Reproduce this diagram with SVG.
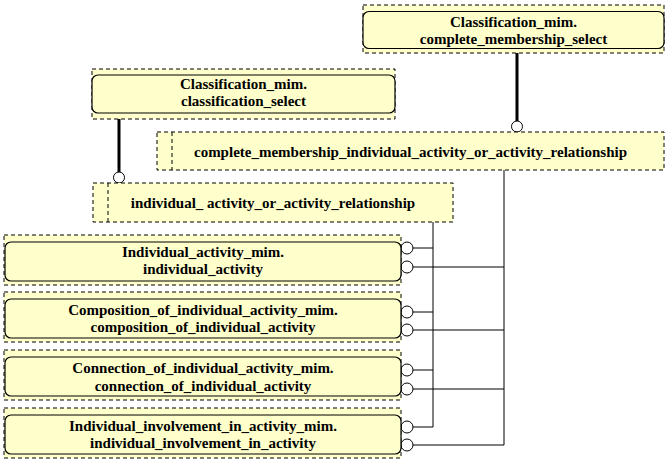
<svg xmlns="http://www.w3.org/2000/svg" width="671" height="463" viewBox="0 0 671 463">
<style>
.bg{fill:#ffffff}
.outer{fill:#ffffcc;stroke:#000;stroke-width:1;stroke-dasharray:4,3}
.inner{fill:#ffffcc;stroke:#000;stroke-width:1.2}
.dl{stroke:#000;stroke-width:1;stroke-dasharray:4,3;fill:none}
.t{font-family:"Liberation Serif","Times New Roman",serif;font-weight:bold;font-size:15px;fill:#000;text-anchor:middle}
.thick{stroke:#000;stroke-width:3;fill:none}
.thin{stroke:#000;stroke-width:1;fill:none}
.c{fill:#fff;stroke:#000;stroke-width:1}
</style>
<rect class="bg" x="0" y="0" width="671" height="463"/>

<g id="connectors">
  <line class="thick" x1="517" y1="53" x2="517" y2="121"/>
  <circle class="c" cx="517" cy="126.5" r="5.5"/>
  <line class="thick" x1="119" y1="119" x2="119" y2="172"/>
  <circle class="c" cx="119" cy="177.5" r="5.5"/>
  <polyline class="thin" points="504,170 504,445 413,445"/>
  <polyline class="thin" points="433,222 433,427 413,427"/>
  <line class="thin" x1="413" y1="248" x2="433" y2="248"/>
  <line class="thin" x1="413" y1="312" x2="433" y2="312"/>
  <line class="thin" x1="413" y1="370" x2="433" y2="370"/>
  <line class="thin" x1="413" y1="267" x2="504" y2="267"/>
  <line class="thin" x1="413" y1="330" x2="504" y2="330"/>
  <line class="thin" x1="413" y1="389" x2="504" y2="389"/>
  <circle class="c" cx="407" cy="248" r="6"/>
  <circle class="c" cx="407" cy="267" r="6"/>
  <circle class="c" cx="407" cy="312" r="6"/>
  <circle class="c" cx="407" cy="330" r="6"/>
  <circle class="c" cx="407" cy="370" r="6"/>
  <circle class="c" cx="407" cy="389" r="6"/>
  <circle class="c" cx="407" cy="427" r="6"/>
  <circle class="c" cx="407" cy="445" r="6"/>
</g>

<g id="complete_membership_select">
  <rect class="outer" x="363" y="5" width="301" height="48"/>
  <rect class="inner" x="363" y="11.5" width="301" height="37" rx="6"/>
  <text class="t" x="513.5" y="27">Classification_mim.</text>
  <text class="t" x="513.5" y="44">complete_membership_select</text>
</g>

<g id="classification_select">
  <rect class="outer" x="92" y="69" width="303" height="50"/>
  <rect class="inner" x="92" y="75" width="303" height="38" rx="6"/>
  <text class="t" x="243.5" y="89">Classification_mim.</text>
  <text class="t" x="243.5" y="106">classification_select</text>
</g>

<g id="complete_membership_individual_activity_or_activity_relationship">
  <rect class="outer" x="157" y="132" width="507" height="38"/>
  <line class="dl" x1="172" y1="132" x2="172" y2="170"/>
  <text class="t" x="410.5" y="157">complete_membership_individual_activity_or_activity_relationship</text>
</g>

<g id="individual_activity_or_activity_relationship">
  <rect class="outer" x="93" y="183" width="360" height="39"/>
  <line class="dl" x1="108" y1="183" x2="108" y2="222"/>
  <text class="t" x="273" y="208">individual_ activity_or_activity_relationship</text>
</g>

<g id="individual_activity">
  <rect class="outer" x="4" y="235" width="397" height="50"/>
  <rect class="inner" x="5" y="242" width="396" height="39" rx="6"/>
  <text class="t" x="203" y="257">Individual_activity_mim.</text>
  <text class="t" x="203" y="274">individual_activity</text>
</g>

<g id="composition_of_individual_activity">
  <rect class="outer" x="4" y="292" width="397" height="50"/>
  <rect class="inner" x="5" y="299" width="396" height="39" rx="6"/>
  <text class="t" x="203" y="315">Composition_of_individual_activity_mim.</text>
  <text class="t" x="203" y="332">composition_of_individual_activity</text>
</g>

<g id="connection_of_individual_activity">
  <rect class="outer" x="4" y="350" width="397" height="50"/>
  <rect class="inner" x="5" y="357" width="396" height="39" rx="6"/>
  <text class="t" x="203" y="373">Connection_of_individual_activity_mim.</text>
  <text class="t" x="203" y="391">connection_of_individual_activity</text>
</g>

<g id="individual_involvement_in_activity">
  <rect class="outer" x="4" y="408" width="397" height="50"/>
  <rect class="inner" x="5" y="415" width="396" height="39" rx="6"/>
  <text class="t" x="203" y="431">Individual_involvement_in_activity_mim.</text>
  <text class="t" x="203" y="448">individual_involvement_in_activity</text>
</g>
</svg>
